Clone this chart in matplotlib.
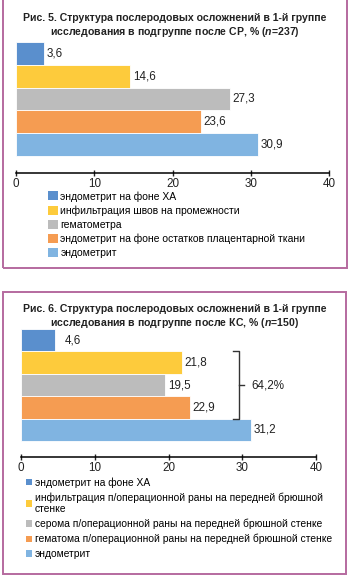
import matplotlib
matplotlib.use("Agg")
import matplotlib.pyplot as plt
from matplotlib.patches import Patch, Rectangle

plt.rcParams['font.family'] = ['Liberation Sans', 'DejaVu Sans']
plt.rcParams['mathtext.fontset'] = 'custom'
plt.rcParams['mathtext.it'] = 'Liberation Sans:italic:bold'
plt.rcParams['mathtext.rm'] = 'Liberation Sans:bold'

# data
colors = ['#5a8fcd', '#fdcb3c', '#bcbcbc', '#f59c52', '#80b4e1']

title1 = ['Рис. 5. Структура послеродовых осложнений в 1-й группе',
          'исследования в подгруппе после СР, % ($\\mathit{n}$=237)']
labels1 = ['эндометрит на фоне ХА',
           'инфильтрация швов на промежности',
           'гематометра',
           'эндометрит на фоне остатков плацентарной ткани',
           'эндометрит']
values1 = [3.6, 14.6, 27.3, 23.6, 30.9]

title2 = ['Рис. 6. Структура послеродовых осложнений в 1-й группе',
          'исследования в подгруппе после КС, % ($\\mathit{n}$=150)']
labels2 = ['эндометрит на фоне ХА',
           'инфильтрация п/операционной раны на передней брюшной\nстенке',
           'серома п/операционной раны на передней брюшной стенке',
           'гематома п/операционной раны на передней брюшной стенке',
           'эндометрит']
values2 = [4.6, 21.8, 19.5, 22.9, 31.2]
bracket_idx = [1, 2, 3]
bracket_text = '64,2%'

ticks = [0, 10, 20, 30, 40]

W, H = 350, 578
fig = plt.figure(figsize=(W / 100, H / 100), dpi=100)


def px(x0, y0, x1, y1):
    # pixel box (top-left origin) -> figure fraction rect
    return [x0 / W, 1 - y1 / H, (x1 - x0) / W, (y1 - y0) / H]


def fmt(v):
    return ('%.1f' % v).replace('.', ',')


def panel(box, title, title_y, axbox, ylo, values, labels, leg_xy, first_pad,
          leg_fs, leg_space, hsize):
    x0, y0, x1, y1 = box
    fig.patches.append(Rectangle((x0 / W, 1 - y1 / H), (x1 - x0) / W, (y1 - y0) / H,
                                 transform=fig.transFigure, fill=False,
                                 edgecolor='#b56a9f', linewidth=1.4))
    for i, line in enumerate(title):
        fig.text(0.5 * (x0 + x1) / W, 1 - (title_y + i * 14) / H, line,
                 ha='center', va='center', fontsize=7.6, fontweight='bold', color='#222222')
    ax = fig.add_axes(px(*axbox))
    pos = list(range(len(values)))
    ax.barh(pos, values, height=1.0, color=colors, edgecolor='white', linewidth=0.6)
    for i, v in enumerate(values):
        pad = first_pad if i == 0 else 0.4
        ax.text(v + pad, i, fmt(v), va='center', ha='left', fontsize=8.4, color='#222222')
    ax.set_xlim(0, 40)
    ax.set_ylim(ylo, -0.5)
    ax.set_xticks(ticks)
    ax.tick_params(axis='x', direction='inout', length=5, width=1, labelsize=8.4,
                   pad=1, colors='#222222')
    for s in ['top', 'right', 'left']:
        ax.spines[s].set_visible(False)
    ax.spines['bottom'].set_linewidth(1.1)
    ax.set_yticks([])
    ax.patch.set_alpha(0)
    handles = [Patch(facecolor=c, edgecolor='none') for c in colors]
    fig.legend(handles, labels, loc='upper left', bbox_to_anchor=(leg_xy[0] / W, 1 - leg_xy[1] / H),
               frameon=False, fontsize=leg_fs, handlelength=hsize, handleheight=hsize,
               handletextpad=0.25, labelspacing=leg_space, borderpad=0, borderaxespad=0)
    return ax


panel((3, -5, 347, 268), title1, 18, (16, 42, 329, 173), 5.25, values1, labels1,
      (48, 191), 0.35, 7.5, 0.38, 0.95)
ax2 = panel((3, 292, 346, 574), title2, 309, (21, 329, 316, 457), 5.21, values2, labels2,
            (26, 477), 1.3, 7.4, 0.45, 0.6)

# bracket over the grouped bars
bx = max(values2[i] for i in bracket_idx) + 5.8
top = bracket_idx[0] - 0.5
bot = bracket_idx[-1] + 0.5
mid = 0.5 * (top + bot)
ax2.plot([bx, bx + 0.9, bx + 0.9, bx], [top, top, bot, bot], color='#333333',
         linewidth=1.0, solid_joinstyle='round', clip_on=False)
ax2.plot([bx + 0.9, bx + 1.6], [mid, mid], color='#333333', linewidth=1.0, clip_on=False)
ax2.text(bx + 2.6, mid, bracket_text, va='center', ha='left', fontsize=8.4, color='#222222')

fig.savefig('out.png', dpi=100)
